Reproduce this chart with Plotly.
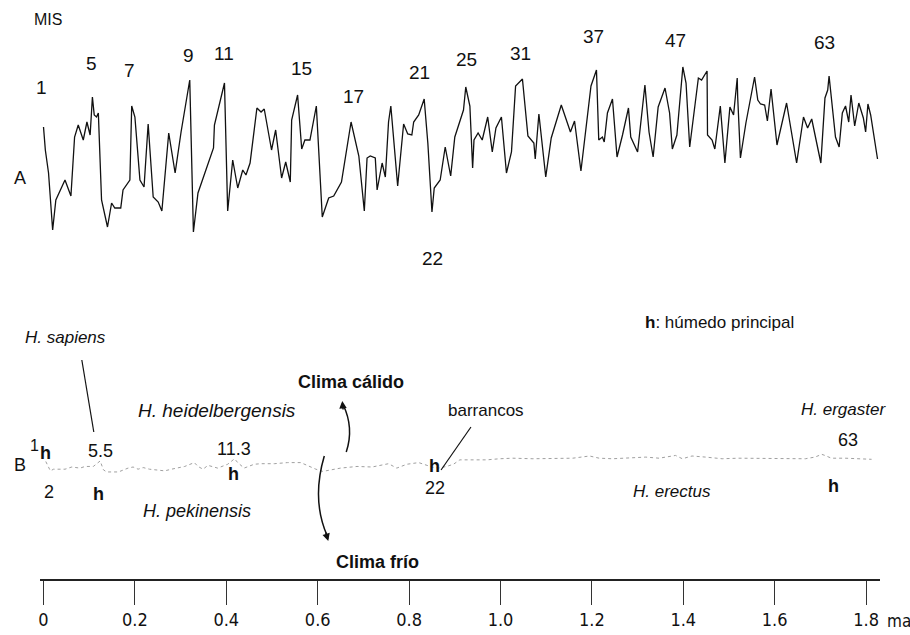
import plotly.graph_objects as go

# ---------------- data ----------------
# Curve A: MIS oxygen-isotope style record (age in Ma, relative warmth index)
a_age = [0.000, 0.004, 0.011, 0.020, 0.027, 0.047, 0.060, 0.068, 0.076, 0.087,
         0.095, 0.102, 0.107, 0.111, 0.116, 0.120, 0.127, 0.140, 0.149, 0.156,
         0.169, 0.174, 0.189, 0.193, 0.200, 0.211, 0.220, 0.229, 0.240, 0.251,
         0.259, 0.274, 0.288, 0.301, 0.320, 0.328, 0.338, 0.372, 0.374, 0.396,
         0.403, 0.414, 0.425, 0.436, 0.443, 0.452, 0.467, 0.476, 0.483, 0.499,
         0.508, 0.521, 0.530, 0.540, 0.543, 0.556, 0.565, 0.572, 0.583, 0.597,
         0.610, 0.624, 0.635, 0.652, 0.673, 0.685, 0.690, 0.702, 0.708, 0.715,
         0.726, 0.730, 0.741, 0.748, 0.755, 0.760, 0.775, 0.788, 0.797, 0.806,
         0.810, 0.821, 0.833, 0.841, 0.850, 0.855, 0.868, 0.879, 0.891, 0.900,
         0.919, 0.924, 0.933, 0.939, 0.942, 0.951, 0.960, 0.972, 0.982, 0.990,
         1.002, 1.013, 1.024, 1.033, 1.048, 1.060, 1.073, 1.076, 1.084, 1.099,
         1.111, 1.133, 1.153, 1.162, 1.176, 1.198, 1.210, 1.215, 1.223, 1.227,
         1.234, 1.245, 1.255, 1.267, 1.280, 1.285, 1.300, 1.316, 1.325, 1.334,
         1.345, 1.360, 1.370, 1.376, 1.386, 1.399, 1.406, 1.414, 1.433, 1.440,
         1.452, 1.453, 1.463, 1.469, 1.481, 1.491, 1.502, 1.510, 1.518, 1.519,
         1.525, 1.537, 1.556, 1.563, 1.569, 1.578, 1.584, 1.592, 1.605, 1.626,
         1.648, 1.663, 1.672, 1.681, 1.701, 1.710, 1.716, 1.719, 1.733, 1.741,
         1.748, 1.755, 1.762, 1.767, 1.775, 1.784, 1.794, 1.799, 1.804, 1.810,
         1.825]
a_val = [113, 90, 67, 10, 40, 60, 44, 103, 115, 100,
         118, 105, 143, 125, 123, 127, 40, 13, 37, 32,
         32, 50, 60, 134, 123, 60, 53, 116, 43, 38,
         29, 107, 67, 108, 160, 8, 47, 92, 115, 157,
         29, 80, 52, 70, 65, 77, 132, 128, 131, 90,
         110, 62, 78, 58, 120, 145, 91, 100, 100, 134,
         23, 42, 44, 58, 118, 92, 84, 29, 82, 84,
         82, 50, 77, 63, 118, 134, 54, 116, 106, 105,
         118, 125, 141, 97, 28, 52, 60, 93, 64, 103,
         130, 153, 134, 72, 100, 107, 100, 123, 88, 112,
         123, 67, 88, 154, 161, 104, 97, 81, 126, 63,
         102, 135, 108, 119, 69, 154, 170, 100, 103, 98,
         127, 141, 83, 105, 132, 103, 88, 155, 108, 83,
         133, 152, 127, 91, 105, 173, 157, 93, 162, 160,
         169, 105, 100, 91, 134, 77, 133, 125, 162, 143,
         82, 117, 163, 140, 136, 135, 119, 151, 95, 137,
         77, 123, 112, 121, 77, 142, 150, 164, 103, 93,
         127, 134, 118, 145, 114, 137, 122, 108, 136, 125,
         81]

# Curve B: humidity record (age in Ma, relative index)
b_age = [0.005, 0.015, 0.022, 0.047, 0.062, 0.080, 0.091, 0.109, 0.124, 0.131,
         0.138, 0.164, 0.185, 0.196, 0.207, 0.218, 0.232, 0.251, 0.265, 0.280,
         0.309, 0.330, 0.338, 0.349, 0.360, 0.381, 0.403, 0.418, 0.425, 0.439,
         0.461, 0.476, 0.505, 0.534, 0.563, 0.596, 0.611, 0.650, 0.686, 0.719,
         0.755, 0.773, 0.795, 0.821, 0.839, 0.850, 0.864, 0.882, 0.897, 0.911,
         0.940, 0.970, 0.998, 1.027, 1.071, 1.115, 1.158, 1.195, 1.216, 1.245,
         1.282, 1.318, 1.347, 1.369, 1.383, 1.398, 1.419, 1.449, 1.485, 1.521,
         1.558, 1.594, 1.637, 1.667, 1.688, 1.703, 1.710, 1.724, 1.754, 1.783,
         1.812]
b_val = [10, -7, -4, -4, 0, -2, 1, 1, 11, -5,
         -9, -9, -2, 0, -4, -1, -4, -5, -7, -4,
         1, 8, 1, -4, 3, -2, 5, 15, 8, -2,
         5, 6, 6, 8, 8, -4, -8, -2, 1, 0,
         6, -2, 5, 8, 3, 0, -2, 1, 5, 13,
         13, 13, 15, 16, 15, 15, 16, 20, 16, 15,
         16, 18, 16, 19, 21, 15, 20, 18, 15, 16,
         16, 15, 16, 15, 18, 23, 21, 16, 16, 15,
         14]

# MIS stage labels on curve A
mis_labels = ["1", "5", "7", "9", "11", "15", "17", "21", "25", "31", "37", "47", "63"]
mis_age = [-0.005, 0.105, 0.188, 0.317, 0.395, 0.565, 0.678, 0.822, 0.926, 1.044,
           1.203, 1.384, 1.708]

# bottom axis
tick_vals = [0, 0.2, 0.4, 0.6, 0.8, 1.0, 1.2, 1.4, 1.6, 1.8]
tick_text = ["0", "0.2", "0.4", "0.6", "0.8", "1.0", "1.2", "1.4", "1.6", "1.8"]

# ---------------- layout helpers (pixel -> paper) ----------------
W, H = 910, 635
PLOT_BOTTOM = 580


def fx(px):
    return px / W


def fy(py):
    return (PLOT_BOTTOM - py) / PLOT_BOTTOM


FONT = "Liberation Sans, Arial, sans-serif"
NARROW = "Liberation Sans Narrow, DejaVu Sans Condensed, Arial Narrow, Liberation Sans, sans-serif"

fig = go.Figure()
fig.add_trace(go.Scatter(x=a_age, y=a_val, mode="lines", xaxis="x", yaxis="y",
                         line=dict(color="#111111", width=1.3), hoverinfo="skip"))
fig.add_trace(go.Scatter(x=b_age, y=b_val, mode="lines", xaxis="x", yaxis="y2",
                         line=dict(color="#a0a0a0", width=1, dash="dot"), hoverinfo="skip"))

ann = []


def txt(x, y, s, size=15, xref="paper", color="#111111", family=FONT, anchor="center"):
    ann.append(dict(x=x if xref != "paper" else fx(x), y=fy(y), xref=xref, yref="paper",
                    text=s, showarrow=False, font=dict(family=family, size=size, color=color),
                    xanchor=anchor, yanchor="middle"))


mis_y = [87, 63, 70, 55, 53, 69, 97, 72, 60, 53, 36, 40, 43]
for lab, ag, yy in zip(mis_labels, mis_age, mis_y):
    txt(ag, yy, lab, size=19, xref="x")
txt(0.852, 258, "22", size=19, xref="x")

txt(46, 20, "MIS", size=16)
txt(18, 178, "A", size=18)
txt(18, 465, "B", size=18)
txt(719, 322, "<b>h</b>: húmedo principal", size=17)
txt(64, 337, "<i>H. sapiens</i>", size=17)
txt(350, 382, "<b>Clima cálido</b>", size=18)
txt(215, 411, "<i>H. heidelbergensis</i>", size=19)
txt(485, 410, "barrancos", size=17)
txt(843, 409, "<i>H. ergaster</i>", size=17)
txt(33, 445, "1", size=16)
txt(44, 453, "<b>h</b>", size=18)
txt(99, 451, "5.5", size=18)
txt(233, 449, "11.3", size=18)
txt(433, 466, "<b>h</b>", size=18)
txt(848, 440, "63", size=18)
txt(47, 492, "2", size=18)
txt(97, 494, "<b>h</b>", size=18)
txt(232, 474, "<b>h</b>", size=18)
txt(195, 511, "<i>H. pekinensis</i>", size=18)
txt(434, 488, "22", size=18)
txt(671, 491, "<i>H. erectus</i>", size=17)
txt(833, 486, "<b>h</b>", size=18)
txt(376, 562, "<b>Clima frío</b>", size=18)
txt(913, 621, "ma", size=17, family=NARROW, anchor="right")

# arrow heads
ann.append(dict(x=fx(341), y=fy(401), xref="paper", yref="paper", ax=1, ay=10,
                text="", showarrow=True, arrowhead=2, arrowsize=1, arrowwidth=1.5,
                arrowcolor="#111111"))
ann.append(dict(x=fx(327), y=fy(541), xref="paper", yref="paper", ax=-3, ay=-10,
                text="", showarrow=True, arrowhead=2, arrowsize=1, arrowwidth=1.5,
                arrowcolor="#111111"))


def path(points, ctrl):
    (x0, y0), (x1, y1) = points
    cx, cy = ctrl
    return (f"M {fx(x0)},{fy(y0)} Q {fx(cx)},{fy(cy)} {fx(x1)},{fy(y1)}")


shapes = [
    dict(type="line", xref="paper", yref="paper", x0=fx(80), y0=fy(360), x1=fx(92), y1=fy(432),
         line=dict(color="#111111", width=1.2)),
    dict(type="line", xref="paper", yref="paper", x0=fx(470), y0=fy(427), x1=fx(440), y1=fy(470),
         line=dict(color="#111111", width=1.2)),
    dict(type="path", xref="paper", yref="paper", path=path(((345, 452), (342, 405)), (353, 428)),
         line=dict(color="#111111", width=1.5)),
    dict(type="path", xref="paper", yref="paper", path=path(((323, 456), (326, 536)), (310, 500)),
         line=dict(color="#111111", width=1.5)),
]

x_left, x_right = 38, 880
px_per_ma = (866 - 41.6) / 1.8
x_min = (x_left - 41.6) / px_per_ma
x_max = (x_right - 41.6) / px_per_ma

fig.update_layout(
    width=W, height=H,
    margin=dict(l=0, r=0, t=0, b=H - PLOT_BOTTOM),
    paper_bgcolor="white", plot_bgcolor="white",
    showlegend=False,
    xaxis=dict(domain=[fx(x_left), fx(x_right)], range=[x_min, x_max], anchor="free", position=0,
               showline=True, linecolor="#222222", linewidth=1.5, ticks="outside", ticklen=24,
               tickwidth=1, tickcolor="#333333", tickvals=tick_vals, ticktext=tick_text,
               tickfont=dict(family=NARROW, size=18, color="#111111"), showgrid=False,
               zeroline=False, fixedrange=True),
    yaxis=dict(domain=[fy(240), fy(60)], range=[0, 180], visible=False, fixedrange=True),
    yaxis2=dict(domain=[fy(500), fy(420)], range=[-60, 85.45], visible=False, fixedrange=True),
    annotations=ann, shapes=shapes,
)

fig.write_html("out.html", config={"displayModeBar": False},
               post_script="document.body.style.margin='0';document.body.style.overflow='hidden';")
